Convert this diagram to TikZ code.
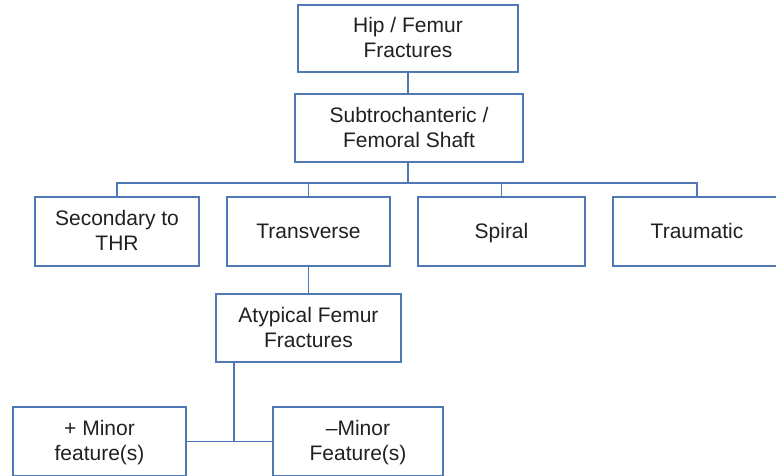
\documentclass[tikz,border=0pt]{standalone}
\usepackage{fontspec}
\setmainfont{Liberation Sans}
\definecolor{boxblue}{HTML}{4F78B5}
\definecolor{txt}{HTML}{231F20}
\newcommand{\ls}{\rule[-6pt]{0pt}{25pt}}
\begin{document}
\begin{tikzpicture}[x=1pt,y=-1pt,
  fbox/.style={draw=boxblue,line width=1.3pt,rectangle,align=center,inner sep=0pt,
    text=txt,font=\fontsize{21}{25}\selectfont},
  conn/.style={draw=boxblue,line width=1.3pt}]
\useasboundingbox (0,0) rectangle (776,475);
\clip (0,0) rectangle (776,475);
\node[fbox,minimum width=220pt,minimum height=67pt] (hip) at (408,38.5) {\ls Hip / Femur\\\ls Fractures};
\node[fbox,minimum width=228pt,minimum height=68pt] (sub) at (409,128) {\ls Subtrochanteric /\\\ls Femoral Shaft};
\node[fbox,minimum width=164pt,minimum height=69pt] (sec) at (117,231.5) {\ls Secondary to\\\ls THR};
\node[fbox,minimum width=163pt,minimum height=69pt] (tra) at (308.5,231.5) {\ls Transverse};
\node[fbox,minimum width=167pt,minimum height=69pt] (spi) at (501.5,231.5) {\ls Spiral};
\node[fbox,minimum width=168pt,minimum height=69pt] (trm) at (697,231.5) {\ls Traumatic};
\node[fbox,minimum width=185pt,minimum height=68pt] (aty) at (308.5,328) {\ls Atypical Femur\\\ls Fractures};
\node[fbox,minimum width=173pt,minimum height=69pt] (plus) at (99.5,441.5) {\ls + Minor\\\ls feature(s)};
\node[fbox,minimum width=170pt,minimum height=69pt] (minus) at (358,441.5) {\ls –Minor\\\ls Feature(s)};
\coordinate (bus) at (408,183);
\coordinate (aj) at (234,441.5);
\draw[conn] (hip.south) -- (hip.south |- sub.north);
\draw[conn] (bus |- sub.south) -- (bus);
\draw[conn] (sec.north) -- (sec.north |- bus) -- (trm.north |- bus) -- (trm.north);
\draw[conn] (tra.north) -- (tra.north |- bus);
\draw[conn] (spi.north) -- (spi.north |- bus);
\draw[conn] (tra.south) -- (aty.north -| tra.south);
\draw[conn] (aj |- aty.south) -- (aj);
\draw[conn] (plus.east) -- (minus.west);
\end{tikzpicture}
\end{document}
